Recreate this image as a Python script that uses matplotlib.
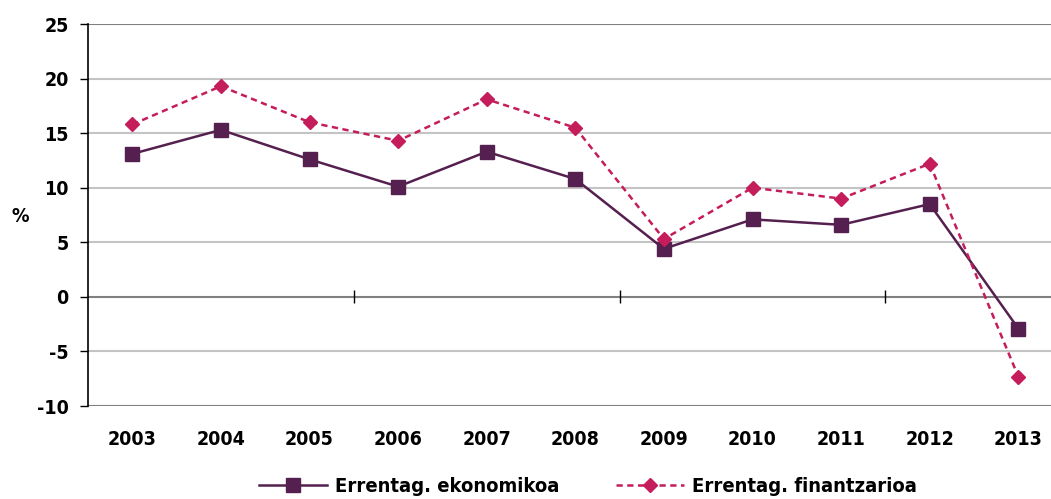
import numpy as np
import matplotlib
matplotlib.use("Agg")
import matplotlib.pyplot as plt

years = ["2003", "2004", "2005", "2006", "2007", "2008", "2009", "2010", "2011", "2012", "2013"]
ekonomikoa = [13.1, 15.3, 12.6, 10.1, 13.3, 10.8, 4.4, 7.1, 6.6, 8.5, -2.9]
finantzarioa = [15.8, 19.3, 16.0, 14.3, 18.1, 15.5, 5.3, 10.0, 9.0, 12.2, -7.3]
y_ticks = [-10, -5, 0, 5, 10, 15, 20, 25]

purple = "#55204f"
pink = "#c51c5c"

plt.rcParams["font.family"] = ["DejaVu Sans"]
plt.rcParams["font.weight"] = "bold"
plt.rcParams["font.stretch"] = "condensed"
plt.rcParams["axes.unicode_minus"] = False

fig = plt.figure(figsize=(10.51, 4.99), dpi=100)
ax = fig.add_axes([88 / 1051, 93 / 499, 1 - 88 / 1051, 382 / 499])

x = np.arange(len(years))

# horizontal grid, darker at the edges and at zero
for v in y_ticks:
    col = "#808080" if v in (-10, 0, 25) else "#c4c4c4"
    ax.axhline(v, color=col, lw=1.5, zorder=1)

# small ticks on the zero line, every three categories
ax.vlines(np.arange(2.5, len(years) - 1, 3), -0.6, 0.6, color="black", lw=1.0, zorder=2)

ax.plot(x, ekonomikoa, color=purple, lw=1.8, marker="s", markersize=9.5,
        label="Errentag. ekonomikoa", zorder=3)
ax.plot(x, finantzarioa, color=pink, lw=1.8, ls=(0, (2.5, 1.8)), marker="D", markersize=7,
        label="Errentag. finantzarioa", zorder=3)

ax.set_xlim(-0.5, (1051 - 88) / 88.6 - 0.5)
ax.set_ylim(-10, 25)
ax.set_xticks(x)
ax.set_xticklabels(years)
ax.set_yticks(y_ticks)
ax.tick_params(axis="x", length=0, pad=17, labelsize=14)
ax.tick_params(axis="y", length=6, width=1, pad=8, labelsize=14, color="black")

for s in ("top", "right", "bottom"):
    ax.spines[s].set_visible(False)
ax.spines["left"].set_color("black")
ax.spines["left"].set_linewidth(1.2)

fig.text(20 / 1051, 1 - 217 / 499, "%", ha="center", va="center", fontsize=14, fontweight="bold")

leg = fig.legend(loc="center", bbox_to_anchor=(588 / 1051, 1 - 487 / 499), ncol=2, frameon=False,
                 handlelength=3.4, columnspacing=2.8, handletextpad=0.4,
                 prop={"family": "DejaVu Sans", "weight": "bold", "stretch": "condensed", "size": 14.5})

fig.savefig("out.png", dpi=100)
